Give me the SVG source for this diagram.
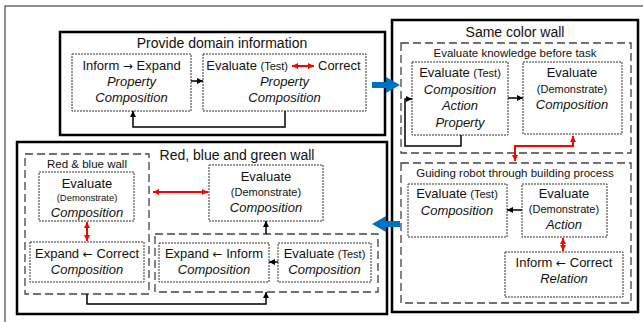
<svg xmlns="http://www.w3.org/2000/svg" width="643" height="322" viewBox="0 0 643 322">
<style>
text{font-family:"Liberation Sans",Arial,sans-serif;fill:#111;text-anchor:middle}
.t{font-size:14px}
.st{font-size:11.5px}
.b{font-size:13px}
.i{font-size:13px;font-style:italic}
.s{font-size:11px}
.xs{font-size:9.5px}
.ar{font-family:"DejaVu Sans",sans-serif;font-size:12px}
.thick{fill:none;stroke:#000;stroke-width:2.5}
.dash{fill:none;stroke:#444;stroke-width:1.3;stroke-dasharray:8 4}
.dot{fill:#fff;stroke:#333;stroke-width:1;stroke-dasharray:2 1}
.con{fill:none;stroke:#000;stroke-width:1.5;marker-end:url(#ah)}
.red{fill:none;stroke:#f00;stroke-width:2;marker-start:url(#rh);marker-end:url(#rh)}
.blue{fill:#0070C0}
</style>
<defs>
<marker id="ah" viewBox="0 0 6 6" refX="6" refY="3" markerWidth="6" markerHeight="6" markerUnits="userSpaceOnUse" orient="auto"><path d="M0,0 L6,3 L0,6 z" fill="#000"/></marker>
<marker id="rh" viewBox="0 0 6 6" refX="6" refY="3" markerWidth="6" markerHeight="6" markerUnits="userSpaceOnUse" orient="auto-start-reverse"><path d="M0,0 L6,3 L0,6 z" fill="#f00"/></marker>
</defs>
<rect x="0" y="0" width="643" height="322" fill="#fff"/>
<rect x="5" y="6" width="700" height="400" fill="none" stroke="#222" stroke-width="1"/>

<g id="provide-domain">
<rect class="thick" x="60" y="32" width="325" height="103"/>
<text class="t" x="222" y="48">Provide domain information</text>
</g>
<g id="inform-expand">
<rect class="dot" x="72" y="54" width="119" height="57"/>
<text class="b" x="131.5" y="70">Inform <tspan class="ar">→</tspan> Expand</text>
<text class="i" x="131.5" y="86">Property</text>
<text class="i" x="131.5" y="102">Composition</text>
</g>
<g id="evaluate-correct">
<rect class="dot" x="203" y="54" width="163" height="57"/>
<text class="b" x="288" y="70" style="text-anchor:end">Evaluate <tspan class="s">(Test)</tspan></text>
<text class="b" x="318" y="70" style="text-anchor:start">Correct</text>
<text class="i" x="284.5" y="86">Property</text>
<text class="i" x="284.5" y="102">Composition</text>
</g>

<g id="same-color-wall">
<rect class="thick" x="392" y="20" width="246" height="292"/>
<text class="t" x="515" y="37">Same color wall</text>
</g>
<g id="evaluate-knowledge">
<rect class="dash" x="401" y="43" width="230" height="110"/>
<text class="st" x="515" y="57">Evaluate knowledge before task</text>
</g>
<g id="eval-test-a">
<rect class="dot" x="412" y="62" width="96" height="73"/>
<text class="b" x="460" y="77">Evaluate <tspan class="s">(Test)</tspan></text>
<text class="i" x="460" y="94">Composition</text>
<text class="i" x="460" y="110">Action</text>
<text class="i" x="460" y="127">Property</text>
</g>
<g id="eval-demo-b">
<rect class="dot" x="523" y="62" width="99" height="72"/>
<text class="b" x="572" y="77">Evaluate</text>
<text class="s" x="572" y="93">(Demonstrate)</text>
<text class="i" x="572" y="109">Composition</text>
</g>
<g id="guiding-robot">
<rect class="dash" x="401" y="163" width="230" height="140"/>
<text class="st" x="515" y="177">Guiding robot through building process</text>
</g>
<g id="eval-test-c">
<rect class="dot" x="408" y="184" width="99" height="53"/>
<text class="b" x="457" y="198">Evaluate <tspan class="s">(Test)</tspan></text>
<text class="i" x="457" y="215">Composition</text>
</g>
<g id="eval-demo-d">
<rect class="dot" x="522" y="184" width="85" height="53"/>
<text class="b" x="564" y="198">Evaluate</text>
<text class="s" x="564" y="213">(Demonstrate)</text>
<text class="i" x="564" y="229">Action</text>
</g>
<g id="inform-correct">
<rect class="dot" x="505" y="252" width="118" height="45"/>
<text class="b" x="564" y="267">Inform <tspan class="ar">←</tspan> Correct</text>
<text class="i" x="564" y="283">Relation</text>
</g>

<g id="rbg-wall">
<rect class="thick" x="17" y="142" width="370" height="172"/>
<text class="t" x="237" y="160">Red, blue and green wall</text>
</g>
<g id="red-blue-wall">
<rect class="dash" x="25" y="154" width="124" height="140"/>
<text class="st" x="87" y="168">Red &amp; blue wall</text>
</g>
<g id="eval-demo-f">
<rect class="dot" x="39" y="172" width="95" height="49"/>
<text class="b" x="87" y="188">Evaluate</text>
<text class="xs" x="87" y="201">(Demonstrate)</text>
<text class="i" x="87" y="217">Composition</text>
</g>
<g id="expand-correct">
<rect class="dot" x="30" y="242" width="114" height="40"/>
<text class="b" x="87" y="258">Expand <tspan class="ar">←</tspan> Correct</text>
<text class="i" x="87" y="274">Composition</text>
</g>
<g id="eval-demo-h">
<rect class="dot" x="209" y="165" width="114" height="56"/>
<text class="b" x="266" y="181">Evaluate</text>
<text class="s" x="266" y="196">(Demonstrate)</text>
<text class="i" x="266" y="212">Composition</text>
</g>
<g id="inner-group">
<rect class="dash" x="155" y="234" width="223" height="58"/>
</g>
<g id="expand-inform">
<rect class="dot" x="159" y="243" width="110" height="39"/>
<text class="b" x="214" y="258">Expand <tspan class="ar">←</tspan> Inform</text>
<text class="i" x="214" y="274">Composition</text>
</g>
<g id="eval-test-j">
<rect class="dot" x="278" y="243" width="93" height="39"/>
<text class="b" x="324.5" y="258">Evaluate <tspan class="s">(Test)</tspan></text>
<text class="i" x="324.5" y="274">Composition</text>
</g>

<g id="connectors">
<path class="con" d="M191,81 H203"/>
<path class="con" d="M285,111 V127 H133 V111"/>
<path class="red" d="M292,66 H314"/>
<path class="con" d="M508,98 H523"/>
<path class="con" d="M461,135 V146 H405 V99 H412"/>
<path class="red" d="M573,136 V146 H515 V161"/>
<path class="con" d="M522,210 H507"/>
<path class="red" d="M563,238 V251"/>
<path class="red" d="M87,222 V241"/>
<path class="red" d="M153,192 H208"/>
<path class="con" d="M266,234 V221"/>
<path class="con" d="M278,262 H269"/>
<path class="con" d="M87,294 V304 H266 V292"/>
<polygon class="blue" points="372,82 386,82 386,77 400,85 386,93 386,88 372,88"/>
<polygon class="blue" points="400,221 386,221 386,216 372,224 386,232 386,227 400,227"/>
</g>
</svg>
